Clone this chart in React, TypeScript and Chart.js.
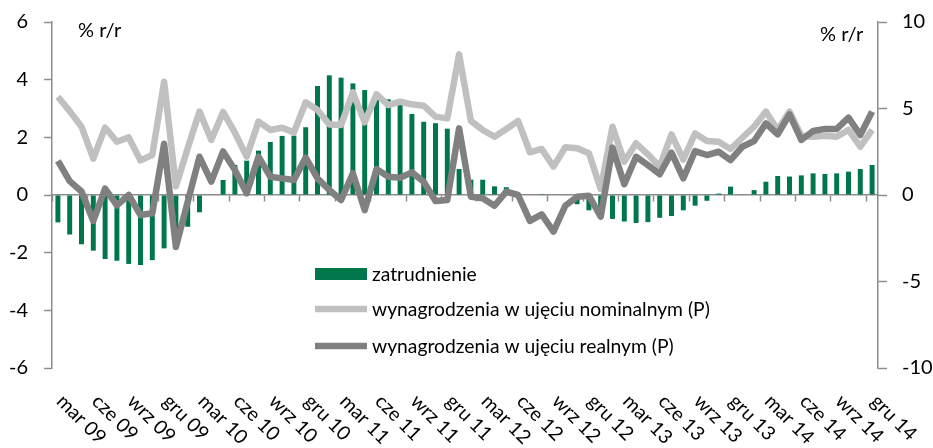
import React, { useEffect, useRef } from 'react';
import { Chart, registerables } from 'chart.js';

Chart.register(...registerables);

const FONT = 'Lato, "Open Sans", sans-serif';

const categories = [
  'mar 09', 'kwi 09', 'maj 09', 'cze 09', 'lip 09', 'sie 09', 'wrz 09', 'paź 09', 'lis 09', 'gru 09',
  'sty 10', 'lut 10', 'mar 10', 'kwi 10', 'maj 10', 'cze 10', 'lip 10', 'sie 10', 'wrz 10', 'paź 10', 'lis 10', 'gru 10',
  'sty 11', 'lut 11', 'mar 11', 'kwi 11', 'maj 11', 'cze 11', 'lip 11', 'sie 11', 'wrz 11', 'paź 11', 'lis 11', 'gru 11',
  'sty 12', 'lut 12', 'mar 12', 'kwi 12', 'maj 12', 'cze 12', 'lip 12', 'sie 12', 'wrz 12', 'paź 12', 'lis 12', 'gru 12',
  'sty 13', 'lut 13', 'mar 13', 'kwi 13', 'maj 13', 'cze 13', 'lip 13', 'sie 13', 'wrz 13', 'paź 13', 'lis 13', 'gru 13',
  'sty 14', 'lut 14', 'mar 14', 'kwi 14', 'maj 14', 'cze 14', 'lip 14', 'sie 14', 'wrz 14', 'paź 14', 'lis 14', 'gru 14',
];

// zatrudnienie, % r/r (left axis)
const employment = [
  -0.95, -1.37, -1.71, -1.93, -2.22, -2.28, -2.39, -2.43, -2.26, -1.85,
  -1.45, -1.1, -0.6, 0.02, 0.52, 1.04, 1.19, 1.54, 1.84, 2.05, 2.06, 2.35,
  3.78, 4.15, 4.07, 3.87, 3.64, 3.57, 3.32, 3.13, 2.81, 2.54, 2.49, 2.3,
  0.9, 0.53, 0.53, 0.3, 0.27, 0.05, 0.0, 0.03, 0.0, -0.02, -0.32, -0.53,
  -0.6, -0.83, -0.92, -0.97, -0.94, -0.79, -0.73, -0.53, -0.37, -0.2, 0.05, 0.29,
  -0.02, 0.17, 0.46, 0.66, 0.64, 0.68, 0.75, 0.73, 0.75, 0.81, 0.9, 1.04,
];

// wynagrodzenia nominalne, % r/r (right axis)
const wagesNominal = [
  5.68, 4.85, 3.95, 2.1, 3.9, 3.08, 3.33, 2.0, 2.31, 6.55,
  0.5, 2.7, 4.82, 3.18, 4.8, 3.6, 2.22, 4.24, 3.76, 3.89, 3.62, 5.36,
  4.91, 4.08, 4.05, 5.93, 4.2, 5.82, 5.2, 5.39, 5.24, 5.16, 4.53, 4.43,
  8.13, 4.28, 3.76, 3.37, 3.82, 4.28, 2.47, 2.66, 1.64, 2.76, 2.7, 2.41,
  0.35, 3.95, 1.93, 2.99, 2.35, 1.64, 3.5, 2.05, 3.56, 3.12, 3.08, 2.66,
  3.31, 3.95, 4.82, 3.76, 4.82, 3.43, 3.37, 3.43, 3.37, 3.76, 2.79, 3.76,
];

// wynagrodzenia realne, % r/r (right axis)
const wagesReal = [
  1.97, 0.8, 0.2, -1.5, 0.37, -0.6, 0.0, -1.16, -1.06, 2.96,
  -3.0, -0.4, 2.21, 0.77, 2.52, 1.45, 0.1, 2.21, 1.06, 0.96, 0.87, 2.16,
  0.96, 0.29, -0.29, 1.25, -0.87, 1.5, 1.06, 1.0, 1.31, 0.77, -0.35, -0.29,
  3.85, -0.1, -0.19, -0.62, 0.19, 0.0, -1.5, -1.12, -2.12, -0.62, -0.1, -0.04,
  -1.25, 2.74, 0.62, 2.21, 1.73, 1.2, 2.45, 0.96, 2.54, 2.31, 2.5, 2.02,
  2.79, 3.12, 4.14, 3.51, 4.66, 3.18, 3.7, 3.82, 3.82, 4.47, 3.47, 4.82,
];

const seriesNames = [
  'zatrudnienie',
  'wynagrodzenia w ujęciu nominalnym (P)',
  'wynagrodzenia w ujęciu realnym (P)',
];
const unitLabel = '% r/r';

const GREEN = '#00774B';
const LIGHT = '#C0C0C0';
const DARK = '#808080';
const AXIS = '#8C8C8C';

const overlayPlugin = {
  id: 'overlay',
  afterDraw(chart: any) {
    const ctx = chart.ctx;
    const xs = chart.scales.x;
    ctx.save();
    ctx.fillStyle = '#000';
    // rotated category labels (every 3rd)
    ctx.font = `19.5px ${FONT}`;
    ctx.textAlign = 'left';
    ctx.textBaseline = 'middle';
    categories.forEach((c, i) => {
      if (i % 3 !== 0) return;
      const x = xs.getPixelForValue(i);
      ctx.save();
      ctx.translate(x + 2, 398);
      ctx.rotate(Math.PI / 4);
      ctx.fillText(c, 0, 0);
      ctx.restore();
    });
    // unit labels
    ctx.font = `20px ${FONT}`;
    ctx.fillText(unitLabel, 78, 31);
    ctx.fillText(unitLabel, 820, 35);
    // legend
    ctx.font = `19.3px ${FONT}`;
    const lx = 315, lw = 52, tx = 372;
    const rows = [274, 309, 346];
    ctx.fillStyle = GREEN;
    ctx.fillRect(lx, rows[0] - 6, lw, 12);
    ctx.lineCap = 'butt';
    ctx.lineWidth = 6.5;
    ctx.strokeStyle = LIGHT;
    ctx.beginPath(); ctx.moveTo(lx, rows[1]); ctx.lineTo(lx + lw, rows[1]); ctx.stroke();
    ctx.strokeStyle = DARK;
    ctx.beginPath(); ctx.moveTo(lx, rows[2]); ctx.lineTo(lx + lw, rows[2]); ctx.stroke();
    ctx.fillStyle = '#000';
    seriesNames.forEach((n, k) => ctx.fillText(n, tx, rows[k] + 1));
    ctx.restore();
  },
};

export default function App() {
  const ref = useRef<HTMLCanvasElement>(null);
  useEffect(() => {
    if (!ref.current) return;
    const chart = new Chart(ref.current, {
      type: 'bar',
      data: {
        labels: categories,
        datasets: [
          {
            type: 'bar',
            label: seriesNames[0],
            data: employment,
            backgroundColor: GREEN,
            borderWidth: 0,
            barPercentage: 0.42,
            categoryPercentage: 1,
            yAxisID: 'y',
            order: 3,
          },
          {
            type: 'line',
            label: seriesNames[1],
            data: wagesNominal,
            borderColor: LIGHT,
            backgroundColor: LIGHT,
            borderWidth: 6.5,
            pointRadius: 0,
            tension: 0,
            borderJoinStyle: 'round',
            borderCapStyle: 'butt',
            yAxisID: 'y1',
            order: 2,
          },
          {
            type: 'line',
            label: seriesNames[2],
            data: wagesReal,
            borderColor: DARK,
            backgroundColor: DARK,
            borderWidth: 6.5,
            pointRadius: 0,
            tension: 0,
            borderJoinStyle: 'round',
            borderCapStyle: 'butt',
            yAxisID: 'y1',
            order: 1,
          },
        ],
      },
      options: {
        responsive: false,
        animation: false,
        devicePixelRatio: 1,
        layout: { padding: { top: 22, bottom: 80, left: 0, right: 0 } },
        plugins: { legend: { display: false }, tooltip: { enabled: false } },
        scales: {
          x: {
            type: 'category',
            position: { y: 0 } as any,
            offset: true,
            border: { display: true, color: AXIS, width: 1.5 },
            grid: {
              offset: true,
              drawOnChartArea: false,
              drawTicks: true,
              tickLength: 6,
              tickWidth: 1.5,
              tickColor: (c: any) => (c.index !== undefined && c.index % 3 === 0 ? AXIS : 'rgba(0,0,0,0)'),
            },
            ticks: { display: false, autoSkip: false },
          },
          y: {
            type: 'linear',
            position: 'left',
            min: -6,
            max: 6,
            afterFit: (s: any) => { s.width = 52; s.paddingTop = 0; s.paddingBottom = 0; },
            border: { display: true, color: AXIS, width: 1.5 },
            grid: { drawOnChartArea: false, drawTicks: true, tickLength: 8, tickWidth: 1.5, color: AXIS },
            ticks: { stepSize: 2, padding: 16, color: '#000', font: { family: FONT, size: 20 } },
          },
          y1: {
            type: 'linear',
            position: 'right',
            min: -10,
            max: 10,
            afterFit: (s: any) => { s.width = 55; s.paddingTop = 0; s.paddingBottom = 0; },
            border: { display: true, color: AXIS, width: 1.5 },
            grid: { drawOnChartArea: false, drawTicks: true, tickLength: 9, tickWidth: 1.5, color: AXIS },
            ticks: { stepSize: 5, padding: 15, color: '#000', font: { family: FONT, size: 20 } },
          },
        },
      },
      plugins: [overlayPlugin],
    } as any);
    return () => chart.destroy();
  }, []);
  return (
    <div style={{ position: 'fixed', left: 0, top: 0, width: 933, height: 448, background: '#fff' }}>
      <canvas ref={ref} width={933} height={448} style={{ display: 'block' }} />
    </div>
  );
}
